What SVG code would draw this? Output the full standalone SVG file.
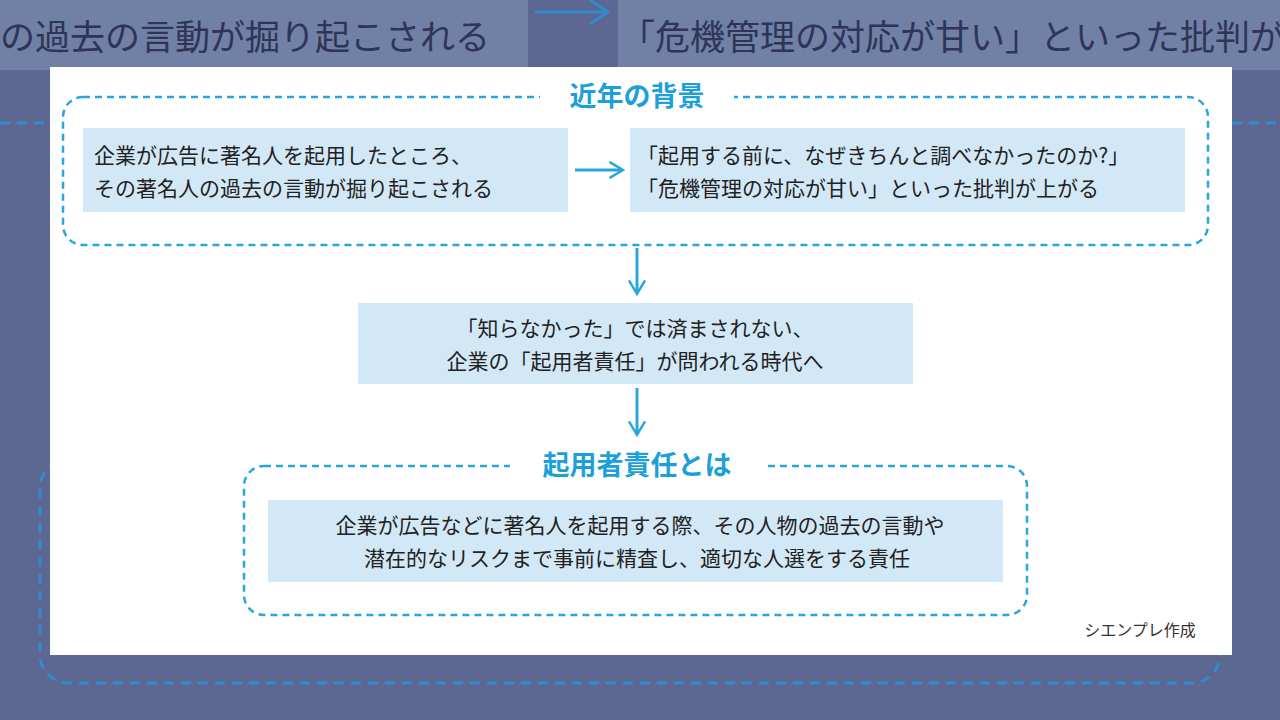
<svg xmlns="http://www.w3.org/2000/svg" width="1280" height="720" viewBox="0 0 1280 720">
<defs>
<style>
.t{font-family:"Noto Sans CJK JP","Noto Sans",sans-serif;font-size:21px;fill:#222;text-anchor:middle}
.l{text-anchor:start}
.h{font-family:"Noto Sans CJK JP","Noto Sans",sans-serif;font-size:27px;font-weight:bold;fill:#1d9fd9;text-anchor:middle}
.box{fill:#d3e8f6}
.dash{fill:none;stroke:#29a6dc;stroke-width:2.5;stroke-dasharray:7 5}
.arr{stroke:#29a6dc;stroke-width:3;fill:none}
</style>
<marker id="ah" viewBox="0 0 10 10" refX="8" refY="5" markerWidth="6" markerHeight="6" orient="auto"><path d="M1,0.5 L8.5,5 L1,9.5" fill="none" stroke="#29a6dc" stroke-width="1.4"/></marker>
</defs>
<rect width="1280" height="720" fill="#5c6792"/>
<g id="bg" opacity="0.9">
<rect x="0" y="0" width="528" height="70" fill="#7483a8"/>
<rect x="618" y="0" width="662" height="70" fill="#7483a8"/>
<text x="0" y="50" font-family="Noto Sans CJK JP,sans-serif" font-size="35" fill="#2a3050">の過去の言動が掘り起こされる</text>
<text x="620" y="50" font-family="Noto Sans CJK JP,sans-serif" font-size="35" fill="#2a3050">「危機管理の対応が甘い」といった批判が</text>
<path d="M535,12 H605 M590,0 L608,12 L590,24" stroke="#2f8fd0" stroke-width="3" fill="none"/>
<path d="M0,123 H50 M1232,123 H1280" stroke="#2f8fd0" stroke-width="3" stroke-dasharray="10 7"/>
<rect x="40" y="460" width="1180" height="223" rx="28" fill="none" stroke="#2f8fd0" stroke-width="3" stroke-dasharray="10 7"/>
</g>
<rect x="50" y="67" width="1182" height="588" fill="#fff"/>
<g id="group1">
<rect class="dash" x="63" y="97" width="1145" height="148" rx="20"/>
<rect x="540" y="82" width="194" height="30" fill="#fff"/>
<text class="h" x="637" y="106">近年の背景</text>
</g>
<g id="n1"><rect class="box" x="83" y="128" width="485" height="84"/>
<text class="t l" x="94" y="163">企業が広告に著名人を起用したところ、</text>
<text class="t l" x="94" y="196">その著名人の過去の言動が掘り起こされる</text></g>
<g id="n2"><rect class="box" x="630" y="128" width="555" height="84"/>
<text class="t l" x="637" y="163">「起用する前に、なぜきちんと調べなかったのか?」</text>
<text class="t l" x="637" y="196">「危機管理の対応が甘い」といった批判が上がる</text></g>
<g id="n3"><rect class="box" x="358" y="303" width="555" height="81"/>
<text class="t" x="635" y="336">「知らなかった」では済まされない、</text>
<text class="t" x="635" y="369">企業の「起用者責任」が問われる時代へ</text></g>
<g id="group2">
<rect class="dash" x="244" y="466" width="783" height="149" rx="20"/>
<rect x="510" y="450" width="255" height="32" fill="#fff"/>
<text class="h" x="637" y="475">起用者責任とは</text>
</g>
<g id="n4"><rect class="box" x="268" y="500" width="735" height="82"/>
<text class="t" x="640" y="533">企業が広告などに著名人を起用する際、その人物の過去の言動や</text>
<text class="t" x="637" y="566">潜在的なリスクまで事前に精査し、適切な人選をする責任</text></g>
<g id="connectors">
<path class="arr" marker-end="url(#ah)" d="M575,170 H622"/>
<path class="arr" marker-end="url(#ah)" d="M637,248 V293"/>
<path class="arr" marker-end="url(#ah)" d="M637,388 V434"/>
</g>
<text x="1140" y="636" font-family="Noto Sans CJK JP,sans-serif" font-size="16" fill="#333" text-anchor="middle">シエンプレ作成</text>
</svg>
